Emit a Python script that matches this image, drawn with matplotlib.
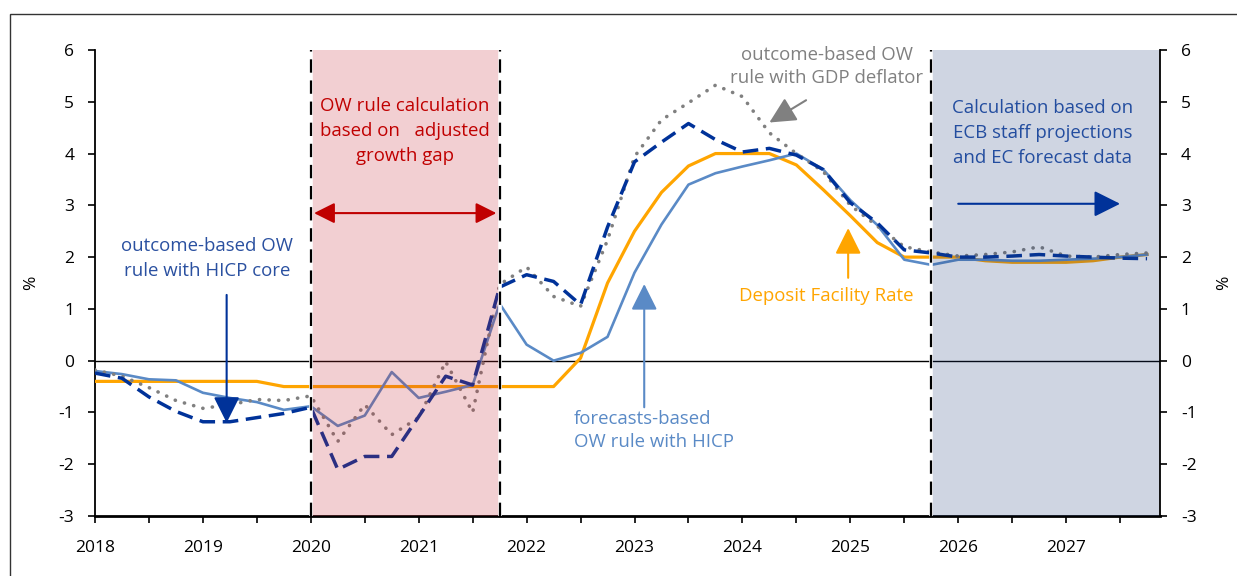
import matplotlib
matplotlib.use("Agg")
import matplotlib.pyplot as plt
import matplotlib.patches as patches
import numpy as np

# quarterly observations, 2018Q1 .. 2027Q4
quarters = 2018 + 0.25 * np.arange(40)

deposit_rate = [-0.4, -0.4, -0.4, -0.4, -0.4, -0.4, -0.4, -0.5,
                -0.5, -0.5, -0.5, -0.5, -0.5, -0.5, -0.5, -0.5,
                -0.5, -0.5, 0.05, 1.5, 2.5, 3.25, 3.76, 4.0,
                4.0, 4.0, 3.78, 3.3, 2.8, 2.28, 2.0, 2.0,
                2.0, 1.93, 1.9, 1.9, 1.9, 1.93, 2.0, 2.05]

ow_hicp_forecast = [-0.2, -0.26, -0.36, -0.38, -0.62, -0.72, -0.8, -0.95,
                    -0.88, -1.26, -1.06, -0.22, -0.72, -0.6, -0.47, 1.1,
                    0.31, 0.0, 0.15, 0.46, 1.7, 2.63, 3.4, 3.62,
                    3.75, 3.87, 4.0, 3.69, 3.1, 2.62, 1.95, 1.85,
                    1.95, 1.95, 1.93, 1.93, 1.95, 1.97, 2.0, 2.05]

ow_hicp_core = [-0.24, -0.34, -0.7, -0.98, -1.18, -1.18, -1.1, -1.02,
                -0.9, -2.1, -1.85, -1.85, -1.08, -0.3, -0.47, 1.42,
                1.66, 1.53, 1.08, 2.58, 3.84, 4.22, 4.58, 4.27,
                4.03, 4.1, 3.97, 3.69, 3.05, 2.66, 2.14, 2.08,
                2.0, 2.0, 2.02, 2.05, 2.02, 2.0, 1.98, 1.97]

ow_gdp_deflator = [-0.18, -0.3, -0.52, -0.77, -0.92, -0.85, -0.75, -0.77,
                   -0.68, -1.56, -0.85, -1.43, -1.1, -0.02, -1.0, 1.47,
                   1.81, 1.24, 1.05, 2.33, 3.94, 4.65, 4.98, 5.32,
                   5.1, 4.4, 4.0, 3.65, 3.0, 2.6, 2.2, 2.1,
                   2.02, 2.05, 2.1, 2.2, 2.02, 2.0, 2.05, 2.08]

year_ticks = np.arange(2018, 2028)
y_ticks = np.arange(-3, 7)

ORANGE = "#FFA500"
STEEL = "#5A8AC6"
NAVY = "#003299"
GREY = "#808080"
RED = "#C00000"


def arrow(ax, tail, tip, color, scale=20, style="-|>,head_length=0.8,head_width=0.4", lw=1.5):
    ax.annotate("", xy=tip, xytext=tail,
                arrowprops=dict(arrowstyle=style, color=color, lw=lw,
                                mutation_scale=scale, shrinkA=0, shrinkB=0),
                zorder=8)


def main():
    plt.rcParams["font.family"] = ["Open Sans", "DejaVu Sans"]
    plt.rcParams["axes.unicode_minus"] = False
    fig = plt.figure(figsize=(12.37, 5.76), dpi=100)
    fig.patches.append(patches.Rectangle((0.008, -0.1), 1.2, 1.076, transform=fig.transFigure,
                                         fill=False, edgecolor="#333333", lw=1.0))
    ax = fig.add_axes([95 / 1237, 1 - 516 / 576, 1065 / 1237, 466 / 576])

    ax.plot(quarters, deposit_rate, color=ORANGE, lw=2.3, zorder=3)
    ax.plot(quarters, ow_hicp_forecast, color=STEEL, lw=1.9, zorder=4)
    ax.plot(quarters, ow_gdp_deflator, color=GREY, lw=2.6, linestyle=(0, (0.05, 2.6)),
            dash_capstyle="round", zorder=5)
    ax.plot(quarters, ow_hicp_core, color=NAVY, lw=2.5, linestyle=(0, (4.5, 2.2)), zorder=6)

    ax.axhline(0, color="black", lw=1.0, zorder=2)

    # shaded periods drawn over the lines
    ax.axvspan(2020.0, 2021.75, color=(200 / 255, 40 / 255, 50 / 255), alpha=0.22, lw=0, zorder=7)
    ax.axvspan(2025.75, 2028.5, color=(30 / 255, 60 / 255, 120 / 255), alpha=0.21, lw=0, zorder=7)
    for xv in (2020.0, 2021.75, 2025.75):
        ax.axvline(xv, color="white", lw=2.6, zorder=7.5)
        ax.axvline(xv, color="black", lw=1.6, linestyle=(0, (6, 3.5)), zorder=7.6)

    ax.set_xlim(2018, 2027.87)
    ax.set_ylim(-3, 6)
    ax.set_yticks(y_ticks)
    ax.set_xticks(np.arange(2018, 2028, 0.5))
    ax.set_xticklabels([str(int(t)) if t == int(t) else "" for t in np.arange(2018, 2028, 0.5)])
    ax.tick_params(axis="both", direction="out", length=5, width=1.2, labelsize=12.5, colors="black")
    ax.tick_params(axis="x", pad=12)
    ax.tick_params(axis="y", pad=10)
    ax.spines["top"].set_visible(False)
    ax.spines["right"].set_visible(False)
    ax.spines["bottom"].set_linewidth(2.0)
    ax.spines["left"].set_linewidth(1.3)
    ax.set_ylabel("%", fontsize=12.5, labelpad=14)

    ax2 = ax.twinx()
    ax2.set_ylim(-3, 6)
    ax2.set_yticks(y_ticks)
    ax2.tick_params(axis="y", direction="out", length=5, width=1.2, labelsize=12.5, pad=10)
    for s in ("top", "left", "bottom"):
        ax2.spines[s].set_visible(False)
    ax2.spines["right"].set_linewidth(1.3)
    ax2.set_ylabel("%", fontsize=12.5, labelpad=14)

    # annotations
    fs = 13.4
    ax.text(2020.87, 4.44, "OW rule calculation\nbased on   adjusted\ngrowth gap", color=RED,
            ha="center", va="center", fontsize=fs, linespacing=1.5, zorder=9)
    arrow(ax, (2020.03, 2.85), (2021.72, 2.85), RED, scale=14,
          style="<|-|>,head_length=0.9,head_width=0.45", lw=1.5)

    ax.text(2019.04, 1.98, "outcome-based OW\nrule with HICP core", color="#2A50A0",
            ha="center", va="center", fontsize=fs, linespacing=1.5, zorder=9)
    arrow(ax, (2019.22, 1.27), (2019.22, -1.2), NAVY)

    ax.text(2024.78, 5.68, "outcome-based OW\nrule with GDP deflator", color=GREY,
            ha="center", va="center", fontsize=fs, linespacing=1.35, zorder=9)
    arrow(ax, (2024.59, 5.03), (2024.25, 4.6), GREY)

    ax.text(2024.78, 1.25, "Deposit Facility Rate", color=ORANGE,
            ha="center", va="center", fontsize=fs, zorder=9)
    arrow(ax, (2024.98, 1.6), (2024.98, 2.56), ORANGE)

    ax.text(2022.44, -1.35, "forecasts-based\nOW rule with HICP", color=STEEL,
            ha="left", va="center", fontsize=fs, linespacing=1.38, zorder=9)
    arrow(ax, (2023.09, -0.9), (2023.09, 1.48), STEEL)

    ax.text(2026.78, 4.4, "Calculation based on\nECB staff projections\nand EC forecast data",
            color="#234D9F", ha="center", va="center", fontsize=fs, linespacing=1.5, zorder=9)
    arrow(ax, (2026.0, 3.03), (2027.5, 3.03), NAVY)

    fig.savefig("out.png", dpi=100)


if __name__ == "__main__":
    main()
